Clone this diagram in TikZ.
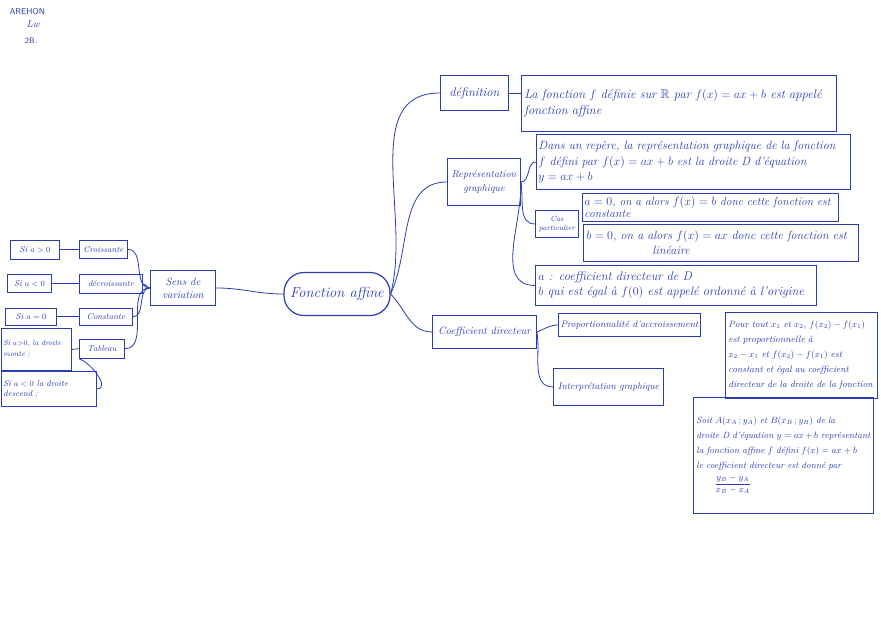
\documentclass[tikz,border=0pt]{standalone}
\usepackage{amsmath}
\usepackage{amssymb}
\usetikzlibrary{positioning,calc}
\definecolor{ink}{RGB}{40,60,180}

\begin{document}
\begin{tikzpicture}[
        x=1pt, y=1pt,
        every node/.style={font=\fontsize{8.5}{10}\selectfont\itshape, text=ink},
        leaf/.style={draw=ink, line width=0.9pt, inner sep=2pt, anchor=north west, align=center},
        note/.style={draw=ink, line width=0.9pt, inner sep=3pt, anchor=north west, align=left},
        hub/.style={draw=ink, line width=1.2pt, rounded corners=20pt, minimum width=106, minimum height=43, font=\fontsize{14.5}{16}\selectfont\itshape},
        link/.style={ink, line width=0.8pt}
    ]
        \useasboundingbox (0,0) rectangle (881,-622);

        % Header
        \node[anchor=north west, font=\fontsize{8.5}{10}\selectfont\sffamily] (nom) at (6,-5) {AREHON};
        \node (sig) at (33,-24) {\fontsize{10}{10}\selectfont Lw};
        \node[font=\fontsize{8}{9}\selectfont\sffamily] (cls) at (31,-41) {2B.};

        % Centre
        \node[hub] (fa) at (337,-294) {Fonction affine};

        % Left branch: sens de variation
        \node[leaf, minimum width=65, minimum height=35, font=\fontsize{10.5}{13}\selectfont\itshape] (sens) at (150,-270) {Sens de\\variation};
        \node[leaf, minimum width=48, minimum height=18] (croi) at (79,-240) {Croissante};
        \node[leaf, minimum width=63, minimum height=19, below=15pt of croi.south west, anchor=north west] (decr) {décroissante};
        \node[leaf, minimum width=53, minimum height=17, below=14pt of decr.south west, anchor=north west] (cons) {Constante};
        \node[leaf, minimum width=45, minimum height=19, below=13pt of cons.south west, anchor=north west] (tabl) {Tableau};

        \node[leaf, minimum width=49, minimum height=19, left=19pt of croi, anchor=east] (sa1) {Si $a>0$};
        \node[leaf, minimum width=44, minimum height=18, left=27pt of decr, anchor=east] (sa2) {Si $a<0$};
        \node[leaf, minimum width=51, minimum height=17, left=22pt of cons, anchor=east] (sa3) {Si $a=0$};
        \node[note, text width=66, minimum height=42, inner sep=2pt, font=\fontsize{7.5}{11}\selectfont\itshape] (sa4) at (1,-328) {Si $a{>}0$, la droite\\monte ;};
        \node[note, text width=91, minimum height=35, inner sep=2pt, below=0pt of sa4.south west, anchor=north west] (sa5) {Si $a<0$ la droite\\descend ;};

        % Right branch: definition
        \node[leaf, minimum width=68, minimum height=35, font=\fontsize{12.5}{14}\selectfont\itshape] (defi) at (440,-75) {définition};
        \node[note, text width=309, minimum height=56, font=\fontsize{12.5}{16}\selectfont\itshape, right=12pt of defi.north east, anchor=north west] (deft) {La fonction $f$ définie sur $\mathbb{R}$ par $f(x)=ax+b$ est appelé\\fonction affine};

        % Right branch: representation graphique
        \node[leaf, minimum width=73, minimum height=47, font=\fontsize{10}{14}\selectfont\itshape] (repr) at (447,-158) {Représentation\\graphique};
        \node[note, text width=310, minimum height=55, inner sep=2pt, font=\fontsize{12}{15.5}\selectfont\itshape] (rept) at (536,-134) {Dans un repère, la représentation graphique de la fonction\\$f$ défini par $f(x)=ax+b$ est la droite D d'équation\\$y=ax+b$};
        \node[leaf, minimum width=43, minimum height=27, font=\fontsize{7.5}{9}\selectfont\itshape] (casp) at (535,-210) {Cas\\particulier};
        \node[note, text width=252, minimum height=28, inner sep=2pt, font=\fontsize{11.5}{12}\selectfont\itshape] (ca0) at (582,-193) {$a=0$, on a alors $f(x)=b$ donc cette fonction est\\constante};
        \node[note, text width=269, minimum height=37, font=\fontsize{12}{15}\selectfont\itshape] (cb0) at (583,-224) {$b=0$, on a alors $f(x)=ax$ donc cette fonction est\\\hspace*{5.5em}linéaire};
        \node[note, text width=275, minimum height=40, font=\fontsize{12.5}{15}\selectfont\itshape] (cab) at (535,-265) {$a$ : coefficient directeur de D\\$b$ qui est égal à $f(0)$ est appelé ordonné à l'origine};

        % Right branch: coefficient directeur
        \node[leaf, minimum width=104, minimum height=33, font=\fontsize{10.5}{12}\selectfont\itshape] (coef) at (432,-315) {Coefficient directeur};
        \node[leaf, minimum width=142, minimum height=23, font=\fontsize{9.4}{11}\selectfont\itshape] (prop) at (558,-313) {Proportionnalité d'accroissement};
        \node[leaf, minimum width=110, minimum height=37, font=\fontsize{9.6}{11}\selectfont\itshape] (intg) at (553,-368) {Interprétation graphique};
        \node[note, text width=146, minimum height=86, font=\fontsize{9.2}{15}\selectfont\itshape] (pour) at (725,-312) {Pour tout $x_1$ et $x_2$, $f(x_2)-f(x_1)$\\est proportionnelle à\\$x_2-x_1$ et $f(x_2)-f(x_1)$ est\\constant et égal au coefficient\\directeur de la droite de la fonction};
        \node[note, text width=174, minimum height=116, font=\fontsize{9}{15}\selectfont\itshape] (soit) at (693,-397) {Soit $A(x_A\,;y_A)$ et $B(x_B\,;y_B)$ de la\\droite D d'équation $y=ax+b$ représentant\\la fonction affine $f$ défini $f(x)=ax+b$\\le coefficient directeur est donné par\\[3pt]\hspace*{2em}$\dfrac{y_B-y_A}{x_B-x_A}$};

        % Connectors, left
        \draw[link] (sens.east) to[out=0,in=180] (fa.west);
        \foreach \n in {croi,decr,cons,tabl}
            \draw[link] (\n.east) to[out=0,in=180] (sens.west);
        \draw[link] (sa1) -- (croi);
        \draw[link] (sa2) -- (decr);
        \draw[link] (sa3) -- (cons);
        \draw[link] (sa4.east) -- (tabl.west);
        \draw[link] (tabl.south west) to[out=-20,in=0] (sa5.east);

        % Connectors, right
        \draw[link] (fa.east) to[out=75,in=180] (defi.west);
        \draw[link] (fa.east) to[out=65,in=180] (repr.west);
        \draw[link] (fa.east) to[out=-45,in=180] (coef.west);
        \draw[link] (defi.east) -- (defi.east -| deft.west);
        \draw[link] (repr.east) to[out=0,in=180] (rept.west);
        \draw[link] (repr.east) to[out=-80,in=180] (casp.west);
        \draw[link] (repr.east) to[out=-88,in=180] (cab.west);
        \draw[link] (coef.east) to[out=20,in=180] (prop.west);
        \draw[link] (coef.east) to[out=-80,in=180] (intg.west);

    \end{tikzpicture}
\end{document}
